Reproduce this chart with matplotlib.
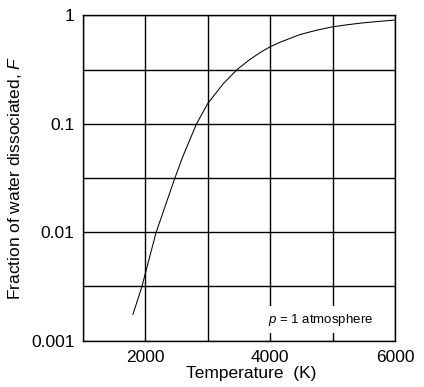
import numpy as np
import matplotlib
matplotlib.use('Agg')
import matplotlib.pyplot as plt

plt.rcParams.update({
    'font.family': ['Liberation Sans', 'DejaVu Sans'],
    'font.size': 12,
    'mathtext.fontset': 'custom',
    'mathtext.it': 'Liberation Sans:italic',
    'mathtext.rm': 'Liberation Sans',
})

# ── Data ──────────────────────────────────────────────────────────────────────
temp_K = [1800, 1940, 2000, 2170, 2460, 2600, 2710, 2820, 3000, 3250,
          3470, 3670, 3850, 4000, 4160, 4480, 4750, 5000, 5250, 5500,
          5750, 6000]
frac_F = [0.00175, 0.0031, 0.0042, 0.0099, 0.0302, 0.05, 0.0708, 0.1,
          0.154, 0.235, 0.316, 0.39, 0.458, 0.513, 0.565, 0.665, 0.73,
          0.783, 0.82, 0.853, 0.879, 0.904]

x_grid = [1000, 2000, 3000, 4000, 5000, 6000]
x_labels = ['', '2000', '', '4000', '', '6000']
y_grid = [1e-3, 10**-2.5, 1e-2, 10**-1.5, 1e-1, 10**-0.5, 1]
y_labels = ['0.001', '', '0.01', '', '0.1', '', '1']

fig = plt.figure(figsize=(4.24, 3.87), dpi=100)
ax = fig.add_axes([0.1958, 0.1196, 0.7358, 0.8409])

ax.plot(temp_K, frac_F, color='black', lw=0.75, zorder=4)

ax.set_yscale('log')
ax.set_xlim(1000, 6000)
ax.set_ylim(1e-3, 1)
ax.set_xticks(x_grid, x_labels)
ax.set_yticks(y_grid, y_labels)
ax.minorticks_off()
ax.tick_params(length=0, labelsize=12.5, colors='black')
ax.tick_params(axis='y', pad=6)
ax.tick_params(axis='x', pad=7)
ax.grid(True, color='black', lw=1.0, zorder=1)
ax.set_axisbelow(True)
for sp in ax.spines.values():
    sp.set_linewidth(1.0)
    sp.set_color('black')

ax.set_xlabel('Temperature  (K)', fontsize=12.5)
ax.xaxis.set_label_coords(0.54, -0.078)
ax.set_ylabel(r'Fraction of water dissociated, $F$', fontsize=12.5)
ax.yaxis.set_label_coords(-0.19, 0.5)

ax.text(0.763, 0.064, r'$p$ = 1 atmosphere', transform=ax.transAxes,
        ha='center', va='center', fontsize=9.5,
        bbox=dict(facecolor='white', edgecolor='none', pad=4), zorder=3)

fig.savefig('out.png', dpi=100)
